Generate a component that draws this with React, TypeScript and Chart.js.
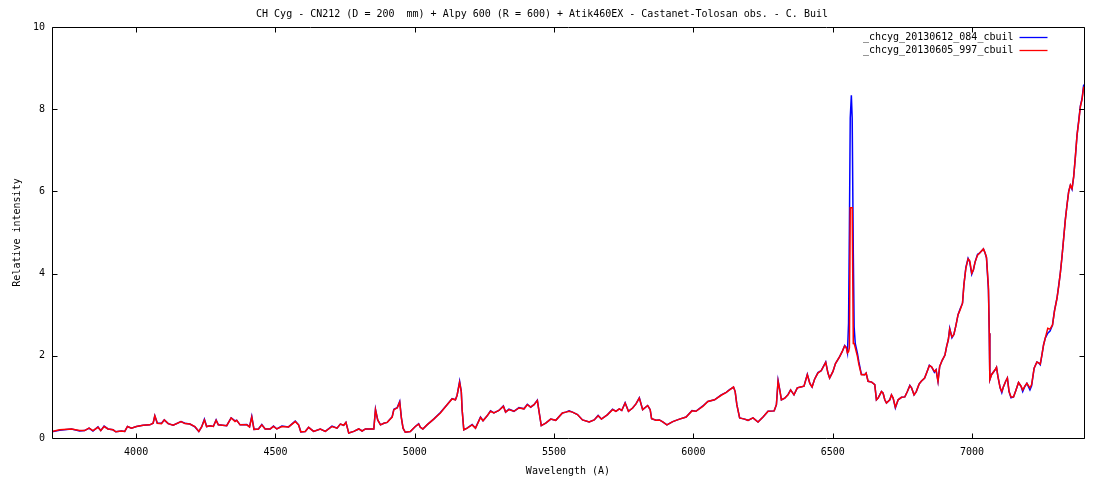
import React, { useEffect, useRef } from "react";
import { Chart, registerables } from "chart.js";

Chart.register(...registerables);

const titleText =
  "CH Cyg - CN212 (D = 200  mm) + Alpy 600 (R = 600) + Atik460EX - Castanet-Tolosan obs. - C. Buil";
const xAxisTitle = "Wavelength (A)";
const yAxisTitle = "Relative intensity";
const seriesLabels = ["_chcyg_20130612_084_cbuil", "_chcyg_20130605_997_cbuil"];
const seriesColors = ["#0000ff", "#ff0000"];

const xTicks = [4000, 4500, 5000, 5500, 6000, 6500, 7000];
const yTicks = [0, 2, 4, 6, 8, 10];
const xMin = 3698;
const xMax = 7402;

const wavelengths = [
  3698, 3725, 3768, 3797, 3815, 3831, 3845, 3863, 3873, 3885, 3899, 3917, 3927, 3947, 3959, 3969, 3983,
  4001, 4025, 4049, 4061, 4067, 4076, 4091, 4101, 4115, 4133, 4161, 4175, 4193, 4211, 4225, 4235, 4245,
  4253, 4265, 4277, 4287, 4295, 4325, 4341, 4355, 4361, 4373, 4397, 4407, 4415, 4423, 4439, 4451, 4463,
  4481, 4493, 4505, 4523, 4547, 4571, 4583, 4591, 4607, 4619, 4637, 4661, 4679, 4703, 4721, 4733, 4745,
  4753, 4763, 4781, 4799, 4811, 4823, 4841, 4853, 4859, 4867, 4877, 4889, 4901, 4919, 4925, 4937, 4946,
  4952, 4958, 4966, 4984, 5002, 5014, 5020, 5029, 5044, 5068, 5092, 5116, 5134, 5146, 5152, 5161, 5167,
  5170, 5176, 5188, 5206, 5218, 5236, 5245, 5260, 5272, 5284, 5302, 5318, 5326, 5338, 5356, 5374, 5392,
  5404, 5416, 5428, 5440, 5446, 5454, 5470, 5488, 5506, 5530, 5542, 5554, 5566, 5584, 5602, 5626, 5644,
  5658, 5670, 5692, 5710, 5722, 5734, 5743, 5755, 5767, 5782, 5794, 5806, 5818, 5836, 5845, 5850, 5866,
  5878, 5890, 5905, 5926, 5950, 5974, 5995, 6009, 6034, 6052, 6076, 6100, 6118, 6130, 6144, 6150, 6156,
  6166, 6184, 6196, 6214, 6232, 6250, 6268, 6290, 6298, 6304, 6310, 6316, 6328, 6340, 6349, 6361, 6373,
  6385, 6397, 6409, 6418, 6426, 6435, 6447, 6459, 6475, 6483, 6489, 6501, 6510, 6525, 6534, 6543, 6549,
  6553, 6557, 6560, 6563, 6567, 6570, 6574, 6577, 6581, 6589, 6594, 6603, 6615, 6620, 6627, 6640, 6651,
  6657, 6663, 6675, 6681, 6687, 6693, 6705, 6711, 6717, 6725, 6735, 6747, 6759, 6768, 6777, 6783, 6792,
  6800, 6810, 6818, 6830, 6839, 6847, 6855, 6865, 6871, 6878, 6884, 6893, 6903, 6909, 6915, 6920, 6928,
  6935, 6942, 6950, 6958, 6966, 6971, 6978, 6986, 6992, 6999, 7005, 7011, 7020, 7026, 7041, 7047, 7052,
  7059, 7062, 7064, 7070, 7083, 7088, 7093, 7101, 7107, 7113, 7121, 7127, 7133, 7140, 7149, 7158, 7167,
  7176, 7182, 7190, 7197, 7208, 7214, 7223, 7233, 7239, 7245, 7251, 7257, 7263, 7272, 7280, 7289, 7296,
  7305, 7311, 7317, 7323, 7329, 7335, 7341, 7347, 7353, 7359, 7365, 7371, 7377, 7383, 7389, 7395, 7401,
];

const blueIntensity = [
  0.15, 0.19, 0.22, 0.17, 0.18, 0.24, 0.17, 0.27, 0.18, 0.29, 0.22, 0.2, 0.15, 0.17, 0.16, 0.28, 0.24,
  0.28, 0.31, 0.32, 0.36, 0.54, 0.36, 0.36, 0.44, 0.35, 0.31, 0.4, 0.36, 0.34, 0.27, 0.16, 0.27, 0.46,
  0.28, 0.3, 0.28, 0.44, 0.32, 0.3, 0.49, 0.42, 0.43, 0.32, 0.33, 0.27, 0.53, 0.21, 0.22, 0.33, 0.22,
  0.22, 0.29, 0.22, 0.29, 0.27, 0.41, 0.32, 0.15, 0.16, 0.26, 0.16, 0.22, 0.16, 0.29, 0.24, 0.34, 0.31,
  0.38, 0.12, 0.16, 0.22, 0.17, 0.22, 0.22, 0.22, 0.7, 0.44, 0.32, 0.36, 0.38, 0.52, 0.7, 0.74, 0.89,
  0.49, 0.24, 0.14, 0.16, 0.28, 0.35, 0.26, 0.22, 0.32, 0.46, 0.62, 0.81, 0.96, 0.93, 1.04, 1.38, 1.13,
  0.69, 0.2, 0.24, 0.33, 0.24, 0.51, 0.42, 0.54, 0.66, 0.61, 0.67, 0.78, 0.63, 0.7, 0.65, 0.74, 0.71,
  0.82, 0.75, 0.81, 0.92, 0.65, 0.3, 0.36, 0.46, 0.43, 0.61, 0.63, 0.66, 0.63, 0.57, 0.44, 0.39, 0.44,
  0.55, 0.46, 0.57, 0.7, 0.65, 0.71, 0.67, 0.86, 0.65, 0.73, 0.83, 0.98, 0.69, 0.79, 0.69, 0.47, 0.43,
  0.44, 0.39, 0.32, 0.4, 0.46, 0.51, 0.67, 0.65, 0.78, 0.89, 0.93, 1.05, 1.11, 1.18, 1.24, 1.13, 0.81,
  0.49, 0.46, 0.43, 0.49, 0.39, 0.51, 0.65, 0.66, 0.81, 1.4, 1.17, 0.93, 0.97, 1.06, 1.17, 1.05, 1.22,
  1.24, 1.26, 1.55, 1.33, 1.24, 1.43, 1.59, 1.64, 1.85, 1.58, 1.46, 1.62, 1.81, 1.98, 2.1, 2.25, 2.2,
  2.07, 2.8, 5.1, 7.78, 8.34, 7.78, 4.5, 2.7, 2.3, 2.05, 1.85, 1.55, 1.54, 1.58, 1.38, 1.36, 1.3,
  0.93, 0.97, 1.13, 1.09, 0.93, 0.85, 0.93, 1.05, 0.97, 0.73, 0.93, 0.99, 1.0, 1.13, 1.28, 1.22, 1.05,
  1.13, 1.31, 1.38, 1.46, 1.62, 1.77, 1.73, 1.6, 1.66, 1.38, 1.74, 1.89, 2.02, 2.23, 2.39, 2.67, 2.44,
  2.52, 2.73, 3.0, 3.15, 3.28, 3.73, 4.15, 4.37, 4.28, 3.98, 4.09, 4.28, 4.47, 4.49, 4.6, 4.5, 4.38,
  3.6, 2.55, 1.42, 1.54, 1.66, 1.72, 1.5, 1.22, 1.1, 1.25, 1.38, 1.46, 1.13, 0.98, 1.0, 1.17, 1.35,
  1.26, 1.13, 1.26, 1.33, 1.17, 1.27, 1.7, 1.85, 1.83, 1.78, 2.02, 2.27, 2.43, 2.55, 2.6, 2.75, 3.1,
  3.4, 3.7, 4.01, 4.41, 4.86, 5.32, 5.67, 6.0, 6.15, 6.05, 6.36, 6.84, 7.37, 7.72, 8.08, 8.26, 8.6,
];

const redIntensity = [
  0.16, 0.2, 0.22, 0.18, 0.18, 0.24, 0.18, 0.26, 0.18, 0.28, 0.22, 0.2, 0.15, 0.17, 0.16, 0.28, 0.24,
  0.28, 0.31, 0.32, 0.36, 0.54, 0.36, 0.35, 0.44, 0.35, 0.31, 0.4, 0.35, 0.34, 0.28, 0.16, 0.27, 0.44,
  0.28, 0.3, 0.28, 0.43, 0.32, 0.3, 0.49, 0.4, 0.43, 0.32, 0.32, 0.27, 0.51, 0.21, 0.22, 0.32, 0.22,
  0.22, 0.28, 0.22, 0.28, 0.27, 0.4, 0.32, 0.15, 0.16, 0.26, 0.16, 0.22, 0.16, 0.28, 0.24, 0.34, 0.31,
  0.38, 0.12, 0.16, 0.22, 0.17, 0.22, 0.22, 0.22, 0.69, 0.44, 0.32, 0.36, 0.38, 0.51, 0.69, 0.73, 0.87,
  0.49, 0.24, 0.14, 0.16, 0.28, 0.34, 0.26, 0.22, 0.32, 0.46, 0.61, 0.81, 0.95, 0.93, 1.04, 1.35, 1.13,
  0.69, 0.2, 0.24, 0.32, 0.24, 0.5, 0.42, 0.54, 0.65, 0.61, 0.67, 0.77, 0.63, 0.69, 0.65, 0.73, 0.71,
  0.81, 0.75, 0.81, 0.91, 0.65, 0.3, 0.36, 0.46, 0.43, 0.61, 0.63, 0.65, 0.63, 0.57, 0.44, 0.39, 0.44,
  0.54, 0.46, 0.57, 0.69, 0.65, 0.71, 0.67, 0.85, 0.65, 0.73, 0.83, 0.97, 0.69, 0.79, 0.69, 0.47, 0.43,
  0.44, 0.39, 0.32, 0.4, 0.46, 0.51, 0.66, 0.65, 0.77, 0.89, 0.93, 1.04, 1.11, 1.17, 1.24, 1.13, 0.81,
  0.49, 0.46, 0.43, 0.49, 0.39, 0.51, 0.65, 0.66, 0.81, 1.38, 1.17, 0.93, 0.97, 1.05, 1.17, 1.05, 1.22,
  1.24, 1.26, 1.54, 1.33, 1.24, 1.43, 1.58, 1.64, 1.84, 1.58, 1.46, 1.62, 1.81, 1.98, 2.1, 2.24, 2.2,
  2.07, 2.1, 2.2, 5.6, 5.6, 5.6, 2.3, 2.3, 2.2, 1.98, 1.79, 1.54, 1.54, 1.58, 1.38, 1.36, 1.3,
  0.93, 0.97, 1.13, 1.09, 0.93, 0.85, 0.93, 1.05, 0.97, 0.75, 0.93, 0.99, 1.0, 1.13, 1.27, 1.22, 1.05,
  1.13, 1.31, 1.38, 1.46, 1.62, 1.76, 1.73, 1.62, 1.66, 1.38, 1.74, 1.89, 2.02, 2.23, 2.39, 2.65, 2.46,
  2.52, 2.73, 3.0, 3.13, 3.28, 3.73, 4.13, 4.36, 4.31, 4.01, 4.09, 4.28, 4.45, 4.49, 4.6, 4.5, 4.4,
  3.68, 2.55, 1.42, 1.54, 1.66, 1.72, 1.5, 1.22, 1.13, 1.25, 1.38, 1.46, 1.13, 1.0, 1.0, 1.17, 1.35,
  1.26, 1.17, 1.26, 1.33, 1.22, 1.3, 1.7, 1.85, 1.83, 1.8, 2.02, 2.27, 2.43, 2.67, 2.65, 2.75, 3.08,
  3.4, 3.68, 4.01, 4.41, 4.86, 5.3, 5.67, 5.99, 6.15, 6.07, 6.36, 6.84, 7.37, 7.69, 8.06, 8.24, 8.55,
];

const FONT = "'DejaVu Sans Mono', 'Liberation Mono', monospace";

const framePlugin = {
  id: "gnuplotFrame",
  afterDatasetsDraw(chart: any) {
    const { ctx, chartArea } = chart;
    const xs = chart.scales.x;
    const ys = chart.scales.y;
    const L = Math.round(chartArea.left) + 0.5;
    const R = Math.round(chartArea.right) + 0.5;
    const T = Math.round(chartArea.top) + 0.5;
    const B = Math.round(chartArea.bottom) + 0.5;
    const tl = 5;
    ctx.save();
    ctx.strokeStyle = "#000";
    ctx.lineWidth = 1;
    ctx.beginPath();
    ctx.rect(L, T, R - L, B - T);
    xTicks.forEach((v) => {
      const px = Math.round(xs.getPixelForValue(v)) + 0.5;
      ctx.moveTo(px, B);
      ctx.lineTo(px, B - tl);
      ctx.moveTo(px, T);
      ctx.lineTo(px, T + tl);
    });
    yTicks.forEach((v) => {
      const py = Math.round(ys.getPixelForValue(v)) + 0.5;
      ctx.moveTo(L, py);
      ctx.lineTo(L + tl, py);
      ctx.moveTo(R, py);
      ctx.lineTo(R - tl, py);
    });
    ctx.stroke();

    // legend inside plot, top right (gnuplot style)
    ctx.font = `10px ${FONT}`;
    ctx.textAlign = "right";
    ctx.textBaseline = "middle";
    chart.data.datasets.forEach((ds: any, i: number) => {
      const y = Math.round(chartArea.top + 10 + i * 12.6);
      ctx.fillStyle = "#000";
      ctx.fillText(ds.label, R - 71, y + 0.5);
      ctx.strokeStyle = ds.borderColor;
      ctx.lineWidth = 1.3;
      ctx.beginPath();
      ctx.moveTo(R - 65, y + 0.5);
      ctx.lineTo(R - 37, y + 0.5);
      ctx.stroke();
    });
    ctx.restore();
  },
};

export default function App() {
  const canvasRef = useRef<HTMLCanvasElement | null>(null);

  useEffect(() => {
    if (!canvasRef.current) return;
    const makeData = (vals: number[]) => wavelengths.map((w, i) => ({ x: w, y: vals[i] }));
    const chart = new Chart(canvasRef.current, {
      type: "line",
      data: {
        datasets: [
          {
            label: seriesLabels[0],
            data: makeData(blueIntensity),
            borderColor: seriesColors[0],
            borderWidth: 1.5,
            pointRadius: 0,
            tension: 0,
            fill: false,
            order: 1,
          },
          {
            label: seriesLabels[1],
            data: makeData(redIntensity),
            borderColor: seriesColors[1],
            borderWidth: 1.5,
            pointRadius: 0,
            tension: 0,
            fill: false,
            order: 0,
          },
        ],
      },
      options: {
        responsive: false,
        animation: false,
        layout: { padding: { left: 0, right: 16, top: 0, bottom: 0 } },
        plugins: {
          legend: { display: false },
          tooltip: { enabled: false },
          title: {
            display: true,
            text: titleText,
            color: "#000",
            font: { family: FONT, size: 10, weight: "normal", lineHeight: 1.2 },
            padding: { top: 8, bottom: 7 },
          },
        },
        scales: {
          x: {
            type: "linear",
            min: xMin,
            max: xMax,
            grid: { display: false, drawTicks: false },
            border: { display: false },
            afterBuildTicks: (scale: any) => {
              scale.ticks = xTicks.map((v) => ({ value: v }));
            },
            afterFit: (scale: any) => {
              scale.height = 42;
            },
            ticks: {
              color: "#000",
              font: { family: FONT, size: 10 },
              padding: 8,
              maxRotation: 0,
              autoSkip: false,
              callback: (v: any) => String(v),
            },
            title: {
              display: true,
              text: xAxisTitle,
              color: "#000",
              font: { family: FONT, size: 10, lineHeight: 1.2 },
              padding: { top: 0, bottom: 3 },
            },
          },
          y: {
            type: "linear",
            min: 0,
            max: 10,
            grid: { display: false, drawTicks: false },
            border: { display: false },
            afterBuildTicks: (scale: any) => {
              scale.ticks = yTicks.map((v) => ({ value: v }));
            },
            afterFit: (scale: any) => {
              scale.width = 52;
            },
            ticks: {
              color: "#000",
              font: { family: FONT, size: 10 },
              padding: 7,
              autoSkip: false,
              callback: (v: any) => String(v),
            },
            title: {
              display: true,
              text: yAxisTitle,
              color: "#000",
              font: { family: FONT, size: 10, lineHeight: 1.2 },
              padding: { top: 11, bottom: 0 },
            },
          },
        },
      },
      plugins: [framePlugin],
    });
    return () => chart.destroy();
  }, []);

  return (
    <div style={{ position: "fixed", left: 0, top: 0, width: 1100, height: 480, background: "#fff" }}>
      <canvas ref={canvasRef} width={1100} height={480} style={{ display: "block" }} />
    </div>
  );
}
